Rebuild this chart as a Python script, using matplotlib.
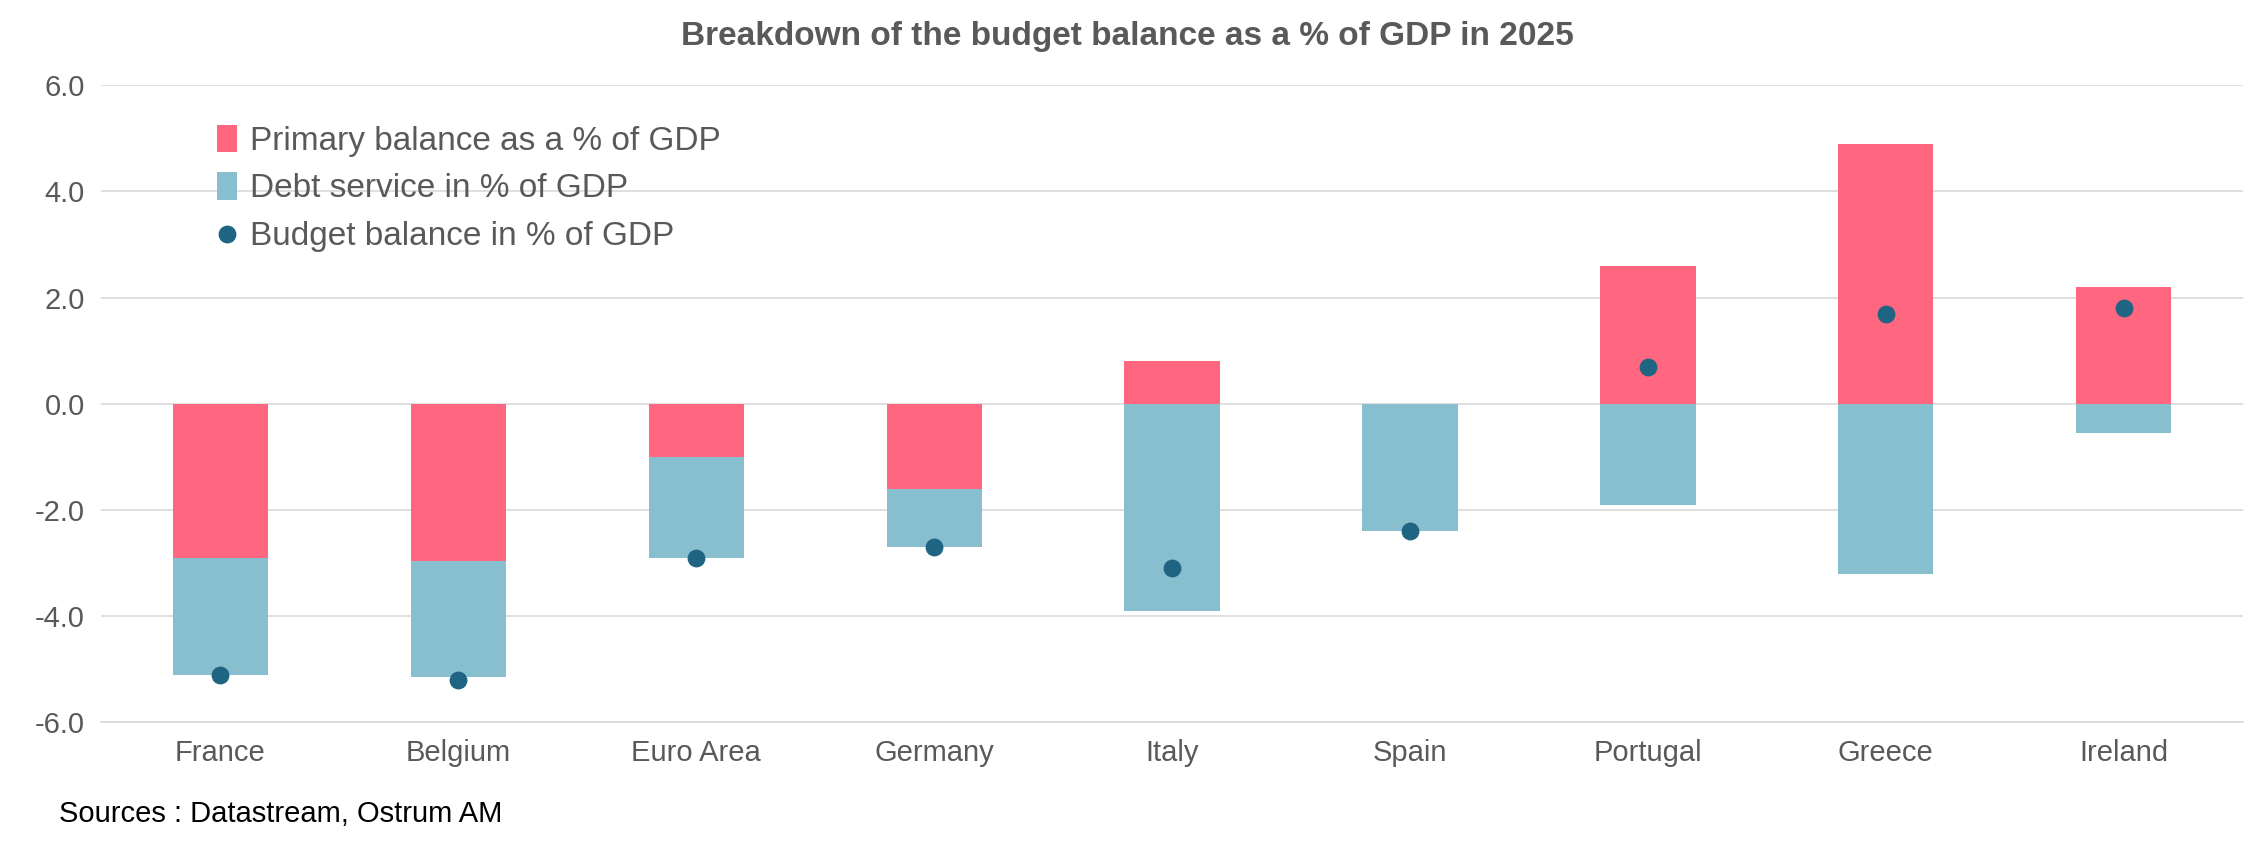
import matplotlib
matplotlib.use("Agg")
import matplotlib.pyplot as plt
import numpy as np

countries = ["France","Belgium","Euro Area","Germany","Italy","Spain","Portugal","Greece","Ireland"]
primary = [-2.9,-2.95,-1.0,-1.6,0.8,0.0,2.6,4.9,2.2]
debt = [-2.2,-2.2,-1.9,-1.1,-3.9,-2.4,-1.9,-3.2,-0.55]
balance = [-5.1,-5.2,-2.9,-2.7,-3.1,-2.4,0.7,1.7,1.8]

plt.rcParams['font.family'] = ['Liberation Sans','DejaVu Sans']
grey = '#595959'
fig = plt.figure(figsize=(22.54,8.52), dpi=100)
ax = fig.add_axes([0.045,0.152,0.95,0.748])
x = np.arange(len(countries))
bottoms = [min(p,0) for p in primary]
b1 = ax.bar(x, primary, width=0.4, color='#FF6680', label='Primary balance as a % of GDP', zorder=2)
b2 = ax.bar(x, debt, bottom=bottoms, width=0.4, color='#88BFCF', label='Debt service in % of GDP', zorder=2)
sc = ax.scatter(x, balance, s=140, color='#1F6483', label='Budget balance in % of GDP', zorder=3)
ax.set_ylim(-6,6)
ax.set_xlim(-0.5,len(countries)-0.5)
ax.set_yticks(np.arange(-6,6.1,2))
ax.set_yticklabels([f"{v:.1f}" for v in np.arange(-6,6.1,2)])
ax.grid(axis='y', color='#D9D9D9', lw=1.2, zorder=0)
ax.set_xticks(x)
ax.set_xticklabels(countries)
ax.tick_params(axis='both', length=0, labelsize=21, colors=grey, pad=12)
for s in ['top','right','left']:
    ax.spines[s].set_visible(False)
ax.spines['bottom'].set_color('#D9D9D9')
ax.spines['bottom'].set_linewidth(1.2)
ax.legend([b1, b2, sc], [b1.get_label(), b2.get_label(), sc.get_label()],
          loc='upper left', bbox_to_anchor=(0.04,0.985), frameon=False, fontsize=24,
          handlelength=0.6, handleheight=0.9, handletextpad=0.4, labelspacing=0.45, labelcolor=grey)
fig.suptitle("Breakdown of the budget balance as a % of GDP in 2025", y=0.975, fontsize=24,
             fontweight='bold', color=grey)
fig.text(0.026,0.035,"Sources : Datastream, Ostrum AM", fontsize=21, color='black')
fig.savefig("out.png", dpi=100)
